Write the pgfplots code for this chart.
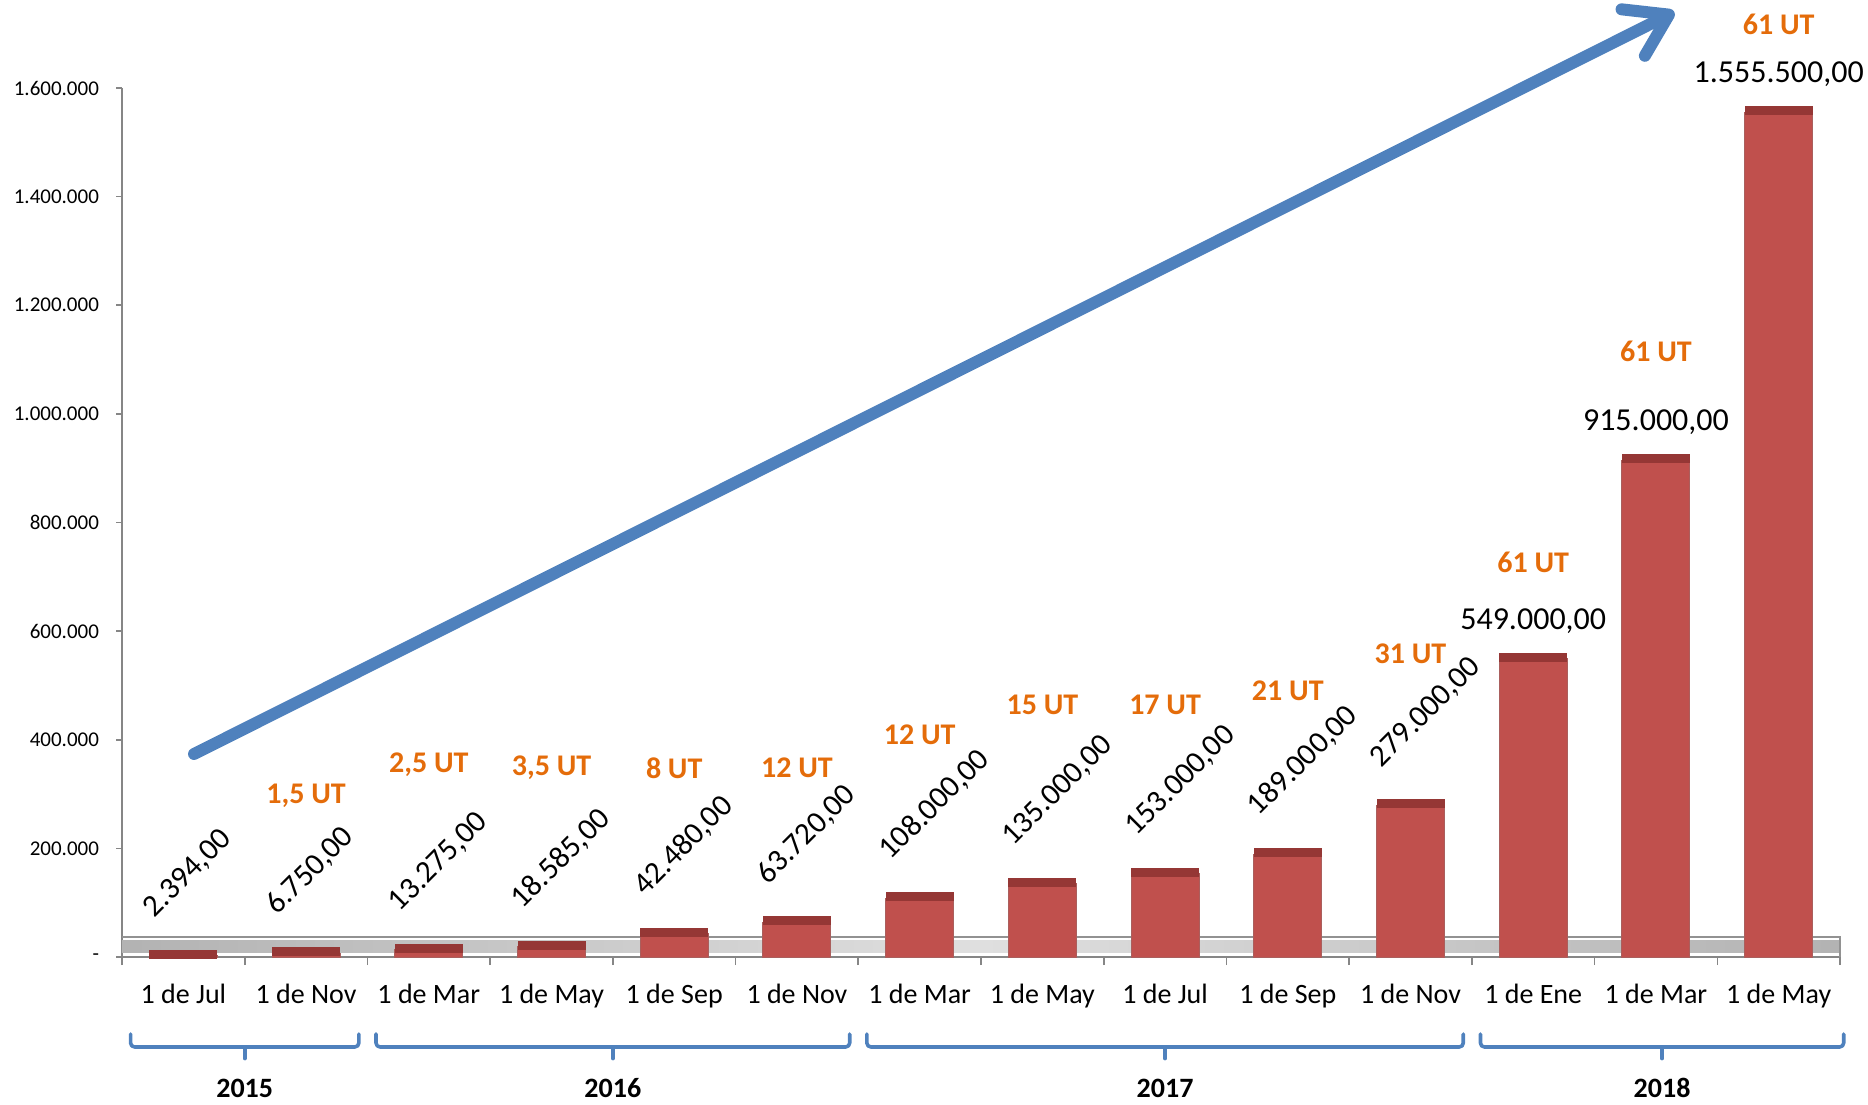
\documentclass[border=0pt]{standalone}
\usepackage{fontspec}
\setmainfont{Carlito}
\usepackage{pgfplots}
\pgfplotsset{compat=1.18}
\usetikzlibrary{arrows.meta}
\definecolor{barred}{HTML}{C0504D}
\definecolor{bardark}{HTML}{953735}
\definecolor{ablue}{HTML}{4F81BD}
\definecolor{utorange}{HTML}{E46C0A}
\definecolor{axgray}{HTML}{868686}
\pgfdeclareplotmark{barcap}{%
  \pgfsetcornersarced{\pgfpoint{1.5pt}{1.5pt}}%
  \pgfpathrectangle{\pgfpoint{-17pt}{-1.5pt}}{\pgfpoint{34pt}{4.5pt}}%
  \pgfusepathqfill}
\newcommand{\vlab}[3]{\node[xshift=-13pt,yshift=17pt,rotate=45,anchor=south west,inner sep=0pt,font=\fontsize{15.5}{18}\selectfont] at (axis cs:#1,#2) {#3};}
\newcommand{\hlab}[3]{\node[anchor=center,inner sep=0pt,font=\fontsize{16}{18}\selectfont,yshift=19pt] at (axis cs:#1,#2) {#3};}
\newcommand{\ut}[3]{\node[anchor=center,inner sep=0pt,text=utorange,font=\bfseries\fontsize{15}{17}\selectfont] at (axis cs:#1,#2) {#3};}
\newcommand{\yearbr}[4]{%
 \draw[ablue,line width=1.8pt,line cap=round,line join=round,rounded corners=2pt] (axis cs:#1,-141800) -- (axis cs:#1,-165700) -- (axis cs:#2,-165700) -- (axis cs:#2,-141800);
 \draw[ablue,line width=1.8pt,line cap=round] (axis cs:#3,-165700) -- (axis cs:#3,-187000);
 \node[font=\bfseries\fontsize{14}{16}\selectfont] at (axis cs:#3,-241500) {#4};}
\begin{document}
\begin{tikzpicture}
\useasboundingbox (0,0) rectangle (934pt,552pt);
\begin{axis}[
  at={(61pt,73.5pt)}, anchor=south west,
  scale only axis, width=859pt, height=434.5pt,
  xmin=-0.5, xmax=13.5, ymin=0, ymax=1600000,
  clip=false,
  scaled y ticks=false,
  axis x line=bottom, axis y line=left,
  axis line style={-, axgray, line width=0.8pt},
  tick align=outside,
  major tick length=3pt,
  minor tick length=4pt,
  ytick={0,200000,400000,600000,800000,1000000,1200000,1400000,1600000},
  yticklabels={{\textrm{-}\hspace{5pt}},{\textrm{200.000}},{\textrm{400.000}},{\textrm{600.000}},{\textrm{800.000}},{\textrm{1.000.000}},{\textrm{1.200.000}},{\textrm{1.400.000}},{\textrm{1.600.000}}},
  yticklabel style={font=\fontsize{10.5}{12}\selectfont, xshift=-5pt},
  ytick style={axgray, line width=0.8pt},
  xtick={0,1,2,3,4,5,6,7,8,9,10,11,12,13},
  xticklabels={1 de Jul,1 de Nov,1 de Mar,1 de May,1 de Sep,1 de Nov,1 de Mar,1 de May,1 de Jul,1 de Sep,1 de Nov,1 de Ene,1 de Mar,1 de May},
  xticklabel style={font=\fontsize{14}{16}\selectfont, yshift=-7pt},
  major x tick style={draw=none},
  minor xtick={-0.5,0.5,1.5,2.5,3.5,4.5,5.5,6.5,7.5,8.5,9.5,10.5,11.5,12.5,13.5},
  minor x tick style={axgray, line width=0.8pt},
]
% floor band
\shade[left color=gray!60, right color=gray!60, middle color=gray!25] (axis cs:-0.5,9000) rectangle (axis cs:13.5,31000);
\draw[axgray!90, line width=1pt] (axis cs:-0.5,36800) -- (axis cs:13.5,36800) -- (axis cs:13.5,0);
\addplot[ybar, bar width=34pt, fill=barred, draw=bardark!80, line width=0.5pt] coordinates {
 (0,2394) (1,6750) (2,13275) (3,18585) (4,42480) (5,63720) (6,108000)
 (7,135000) (8,153000) (9,189000) (10,279000) (11,549000) (12,915000) (13,1555500)};
\addplot[only marks, mark=barcap, color=bardark] coordinates {
 (0,2394) (1,6750) (2,13275) (3,18585) (4,42480) (5,63720) (6,108000)
 (7,135000) (8,153000) (9,189000) (10,279000) (11,549000) (12,915000) (13,1555500)};
% value labels
\vlab{0}{2394}{2.394,00}
\vlab{1}{6750}{6.750,00}
\vlab{2}{13275}{13.275,00}
\vlab{3}{18585}{18.585,00}
\vlab{4}{42480}{42.480,00}
\vlab{5}{63720}{63.720,00}
\vlab{6}{108000}{108.000,00}
\vlab{7}{135000}{135.000,00}
\vlab{8}{153000}{153.000,00}
\vlab{9}{189000}{189.000,00}
\vlab{10}{279000}{279.000,00}
\hlab{11}{549000}{549.000,00}
\hlab{12}{915000}{915.000,00}
\hlab{13}{1555500}{1.555.500,00}
% UT labels
\ut{1}{296400}{1,5 UT}
\ut{2}{353500}{2,5 UT}
\ut{3}{348000}{3,5 UT}
\ut{4}{348000}{8 UT}
\ut{5}{348000}{12 UT}
\ut{6}{408700}{12 UT}
\ut{7}{464000}{15 UT}
\ut{8}{464000}{17 UT}
\ut{9}{489800}{21 UT}
\ut{10}{557900}{31 UT}
\ut{11}{727300}{61 UT}
\ut{12}{1115800}{61 UT}
\ut{13}{1717800}{61 UT}
% arrow
\draw[ablue, line width=6pt, line cap=round, -{Straight Barb[length=20pt,width=26pt,line width=6pt,round]}] (axis cs:0.087,373800) -- (axis cs:12.15,1740000);
% year braces
\yearbr{-0.43}{1.43}{0.5}{2015}
\yearbr{1.57}{5.43}{3.5}{2016}
\yearbr{5.57}{10.43}{8}{2017}
\yearbr{10.57}{13.53}{12.05}{2018}
\end{axis}
\end{tikzpicture}
\end{document}
